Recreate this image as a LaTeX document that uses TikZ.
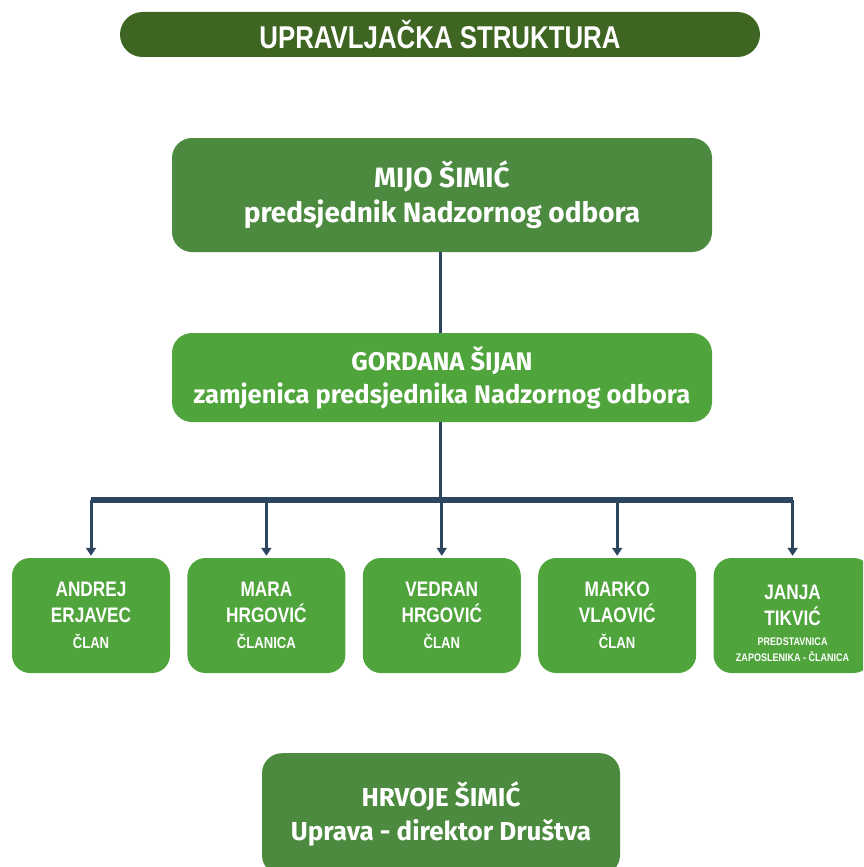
\documentclass[tikz,border=0pt]{standalone}
\usepackage{fontspec}
\setmainfont{Fira Sans}
\newfontfamily\narrowfont[FakeStretch=0.82]{Liberation Sans}
\usetikzlibrary{arrows.meta,positioning}

\definecolor{titlegreen}{RGB}{62,101,33}
\definecolor{boardgreen}{RGB}{76,138,64}
\definecolor{leafgreen}{RGB}{79,164,59}
\definecolor{linkblue}{RGB}{44,70,96}

\begin{document}
\begin{tikzpicture}[x=1pt,y=-1pt,>={Triangle[length=8pt,width=10pt]},node distance=17pt,
    box/.style={rectangle,text=white,align=center,inner sep=0pt},
    head/.style={box,fill=boardgreen,minimum width=540pt,rounded corners=20pt},
    member/.style={box,fill=leafgreen,minimum width=158pt,minimum height=115pt,rounded corners=18pt,
      font=\narrowfont\bfseries\fontsize{21}{26}\selectfont},
    link/.style={draw=linkblue,line width=3pt}]

    \clip (0,0) rectangle (863,867);

    \node[box,fill=titlegreen,minimum width=640pt,minimum height=45pt,rounded corners=22.5pt,
      font=\narrowfont\bfseries\fontsize{31.5}{30}\selectfont] (title) at (440,34.5) {UPRAVLJAČKA STRUKTURA};

    \node[head,minimum height=114pt,font=\bfseries\fontsize{28}{35}\selectfont] (mijo) at (442,195)
      {MIJO ŠIMIĆ\\predsjednik Nadzornog odbora};
    \node[head,fill=leafgreen,minimum height=89pt,font=\bfseries\fontsize{25.5}{33}\selectfont] (gordana) at (442,377.5)
      {GORDANA ŠIJAN\\zamjenica predsjednika Nadzornog odbora};

    \node[member] (andrej) at (91,615.5) {ANDREJ\\ERJAVEC\\{\fontsize{16}{20}\selectfont ČLAN}};
    \node[member] (mara) [right=of andrej] {MARA\\HRGOVIĆ\\{\fontsize{16}{20}\selectfont ČLANICA}};
    \node[member] (vedran) [right=of mara] {VEDRAN\\HRGOVIĆ\\{\fontsize{16}{20}\selectfont ČLAN}};
    \node[member] (marko) [right=of vedran] {MARKO\\VLAOVIĆ\\{\fontsize{16}{20}\selectfont ČLAN}};
    \node[member] (janja) [right=of marko] {\rule{0pt}{30pt}JANJA\\TIKVIĆ\\[-6pt]{\fontsize{11}{16}\selectfont PREDSTAVNICA}\\[-10pt]
      {\fontsize{11}{16}\selectfont ZAPOSLENIKA - ČLANICA}};

    \node[head,minimum width=358pt,minimum height=122pt,font=\bfseries\fontsize{26}{34}\selectfont,
      anchor=north] (hrvoje) at (441,753) {HRVOJE ŠIMIĆ\\Uprava - direktor Društva};

    % tree
    \coordinate (split) at (440,500);
    \path[link] (mijo.south -| split) edge (gordana.north -| split)
                (gordana.south -| split) edge (split);
    \draw[draw=linkblue,line width=6pt] (split -| andrej) -- (split -| janja);
    \foreach \m in {andrej,mara,vedran,marko,janja}
      \draw[link,->] (split -| \m) -- ([yshift=2pt]\m.north);
\end{tikzpicture}
\end{document}
